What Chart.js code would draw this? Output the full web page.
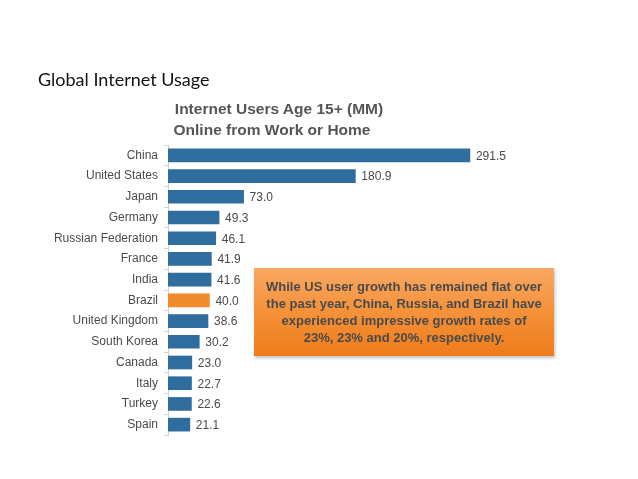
<!DOCTYPE html>
<html>
<head>
<meta charset="utf-8">
<script src="https://cdn.jsdelivr.net/npm/chart.js@4"></script>
<style>
  html, body { margin: 0; padding: 0; background: #fff; }
  #wrap { position: relative; width: 638px; height: 479px; overflow: hidden; }
  #chart { position: absolute; left: 0; top: 0; }
  #page-title { position: absolute; left: 38px; top: 68px; font: 18px Lato, "Open Sans", sans-serif; color: #111; }
  .ctitle { position: absolute; width: 400px; text-align: center; font: bold 15.5px "Liberation Sans", Arial, sans-serif; color: #555; }
  #note {
    position: absolute; left: 254px; top: 268px; width: 300px; height: 88px;
    background: linear-gradient(#f9a862, #f48f36 55%, #ee7c1a);
    box-shadow: 1px 2px 3px rgba(0,0,0,0.25);
    font: bold 13px "Liberation Sans", Arial, sans-serif; color: #4a4a4a;
    text-align: center; line-height: 17px; box-sizing: border-box; padding-top: 10px;
  }
</style>
</head>
<body>
<div id="wrap">
  <canvas id="chart" width="638" height="479"></canvas>
  <div id="page-title">Global Internet Usage</div>
  <div class="ctitle" style="left:79px;top:100px">Internet Users Age 15+ (MM)</div>
  <div class="ctitle" style="left:72px;top:121px">Online from Work or Home</div>
  <div id="note">While US user growth has remained flat over<br>the past year, China, Russia, and Brazil have<br>experienced impressive growth rates of<br>23%, 23% and 20%, respectively.</div>
</div>
<script>
// ── Data ──────────────────────────────────────────────
const countries = ["China", "United States", "Japan", "Germany", "Russian Federation", "France", "India",
                   "Brazil", "United Kingdom", "South Korea", "Canada", "Italy", "Turkey", "Spain"];
const users     = [291.5, 180.9, 73.0, 49.3, 46.1, 41.9, 41.6, 40.0, 38.6, 30.2, 23.0, 22.7, 22.6, 21.1];
const highlight = "Brazil";

const BLUE   = "#2f6d9f";
const ORANGE = "#f08a2c";

// ── Value labels ──────────────────────────────────────
const valueLabels = {
  id: "valueLabels",
  afterDatasetsDraw(c) {
    const ctx = c.ctx;
    ctx.save();
    ctx.font = '12px "Liberation Sans", Arial, sans-serif';
    ctx.fillStyle = "#4a4a4a";
    ctx.textBaseline = "middle";
    c.getDatasetMeta(0).data.forEach((bar, i) => {
      ctx.fillText(users[i].toFixed(1), bar.x + 6, bar.y + 1);
    });
    ctx.restore();
  }
};

// ── Chart ─────────────────────────────────────────────
new Chart(document.getElementById("chart"), {
  type: "bar",
  data: {
    labels: countries,
    datasets: [{
      data: users,
      backgroundColor: countries.map(c => c === highlight ? ORANGE : BLUE),
      barThickness: 13
    }]
  },
  options: {
    indexAxis: "y",
    responsive: false,
    animation: false,
    layout: { padding: { top: 145, bottom: 44, left: 0, right: 35 } },
    plugins: { legend: { display: false }, tooltip: { enabled: false } },
    scales: {
      x: { display: false, min: 0, max: 420 },
      y: {
        afterFit: s => { s.width = 168; },
        border: { display: true, color: "#c9d3dc" },
        grid: { drawOnChartArea: false, drawTicks: true, tickLength: 4, color: "#c9d3dc" },
        ticks: { color: "#4a4a4a", padding: 6, font: { family: '"Liberation Sans", Arial, sans-serif', size: 12 } }
      }
    }
  },
  plugins: [valueLabels]
});
</script>
</body>
</html>
